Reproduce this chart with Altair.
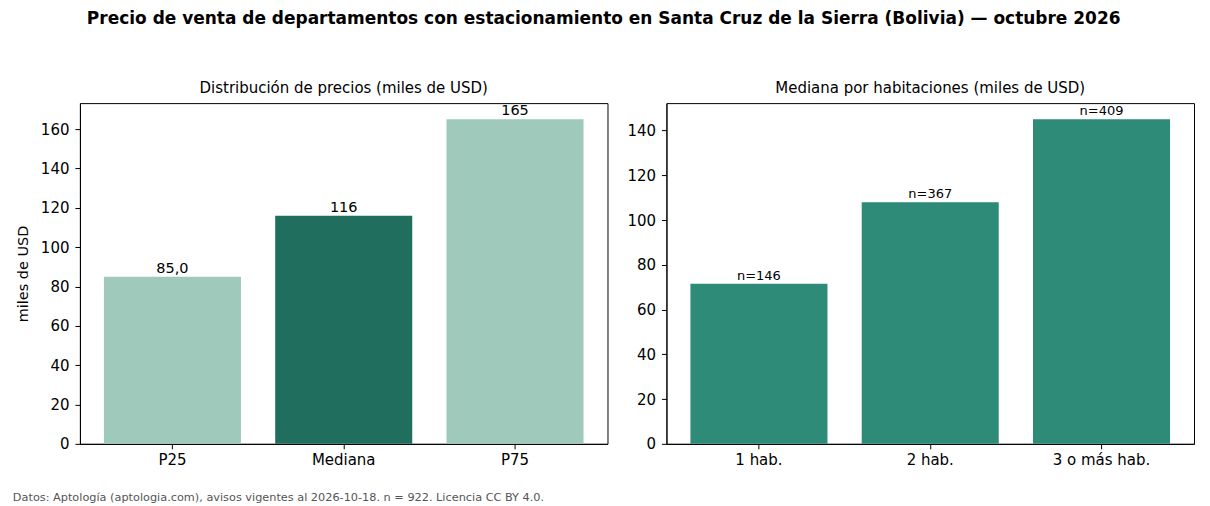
import altair as alt
import pandas as pd

# --- data ---
left_cats = ["P25", "Mediana", "P75"]
left_vals = [85.0, 116.0, 165.0]
left_labels = ["85,0", "116", "165"]
left_colors = ["#9ec9bb", "#206f5e", "#9ec9bb"]

right_cats = ["1 hab.", "2 hab.", "3 o más hab."]
right_vals = [71.5, 108.0, 145.0]
right_n = [146, 367, 409]
right_color = "#2e8b77"

main_title = "Precio de venta de departamentos con estacionamiento en Santa Cruz de la Sierra (Bolivia) — octubre 2026"
footer = "Datos: Aptología (aptologia.com), avisos vigentes al 2026-10-18. n = 922. Licencia CC BY 4.0."

FONT = "DejaVu Sans"
W, H = 528, 341

left_df = pd.DataFrame({"cat": left_cats, "val": left_vals, "lab": left_labels, "col": left_colors})
right_df = pd.DataFrame({"cat": right_cats, "val": right_vals,
                         "lab": [f"n={n}" for n in right_n]})

xscale = alt.Scale(paddingInner=0.2, paddingOuter=0.14)
xaxis = alt.Axis(title=None, labelAngle=0, labelFontSize=15, labelColor="black",
                 tickColor="black", domainColor="black", tickSize=5, labelPadding=4)


def yaxis(values, title=None):
    kw = dict(values=values, labelFontSize=15, labelColor="black", tickColor="black",
              domainColor="black", tickSize=5, labelPadding=6, grid=False)
    if title:
        kw.update(title=title, titleFontSize=14.5, titleFontWeight="normal",
                  titleColor="black", titlePadding=10)
    else:
        kw.update(title=None)
    return alt.Axis(**kw)


lbase = alt.Chart(left_df).encode(
    x=alt.X("cat:N", sort=left_cats, scale=xscale, axis=xaxis),
    y=alt.Y("val:Q", scale=alt.Scale(domain=[0, 173.25], nice=False),
            axis=yaxis(list(range(0, 161, 20)), "miles de USD")),
)
left = alt.layer(
    lbase.mark_bar().encode(color=alt.Color("col:N", scale=None)),
    lbase.mark_text(baseline="bottom", dy=-1, fontSize=14.5, font=FONT, color="black").encode(text="lab:N"),
).properties(width=W, height=H,
             title=alt.TitleParams("Distribución de precios (miles de USD)", fontSize=15,
                                   fontWeight="normal", font=FONT, offset=7, color="black"))

rbase = alt.Chart(right_df).encode(
    x=alt.X("cat:N", sort=right_cats, scale=xscale, axis=xaxis),
    y=alt.Y("val:Q", scale=alt.Scale(domain=[0, 152.25], nice=False),
            axis=yaxis(list(range(0, 141, 20)))),
)
right = alt.layer(
    rbase.mark_bar(color=right_color),
    rbase.mark_text(baseline="bottom", dy=-1, fontSize=13, font=FONT, color="black").encode(text="lab:N"),
).properties(width=W, height=H,
             title=alt.TitleParams("Mediana por habitaciones (miles de USD)", fontSize=15,
                                   fontWeight="normal", font=FONT, offset=7, color="black"))

inner = alt.hconcat(left, right, spacing=17).properties(
    title=alt.TitleParams(footer, orient="bottom", anchor="start", fontSize=11.3,
                          fontWeight="normal", font=FONT, color="#555555", offset=24, dx=-2)
)

chart = alt.vconcat(inner).properties(
    title=alt.TitleParams(main_title, fontSize=17, fontWeight="bold", font=FONT,
                          color="black", anchor="middle", offset=53),
    padding={"left": 12, "top": 9, "right": 15, "bottom": 1},
).configure(
    font=FONT,
    view=alt.ViewConfig(stroke="black", strokeWidth=1),
)

chart.save("out.html", embed_options={"renderer": "svg", "actions": False})
